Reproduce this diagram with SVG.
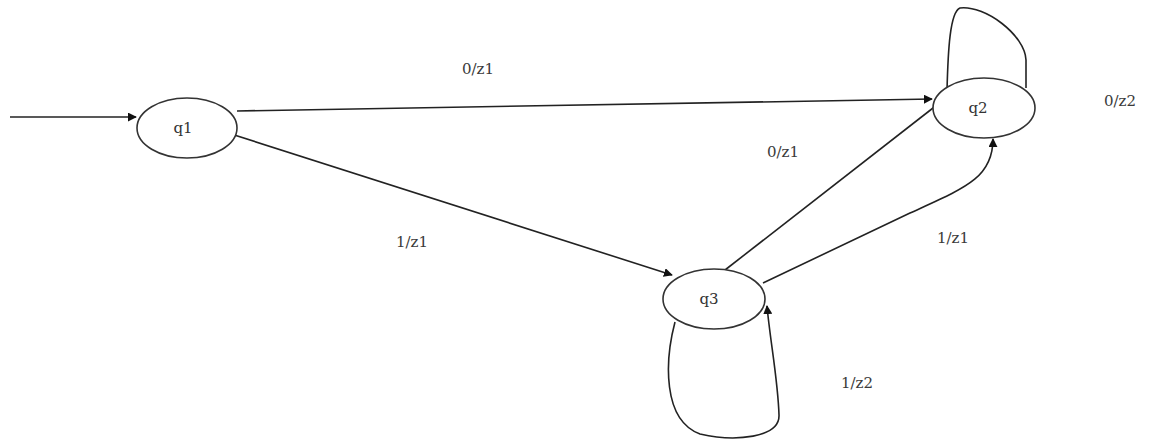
<svg xmlns="http://www.w3.org/2000/svg" width="1158" height="441" viewBox="0 0 1158 441">
<style>
.st{fill:#fff;stroke:#333;stroke-width:1.6}
.e{fill:none;stroke:#222;stroke-width:1.6}
.lb{font-family:"DejaVu Serif","Liberation Serif",serif;font-size:15px;fill:#3a3a3a}
.nl{font-family:"DejaVu Serif","Liberation Serif",serif;font-size:15px;fill:#333}
</style>
<defs>
<marker id="ah" viewBox="0 0 10 10" refX="9" refY="5" markerWidth="9" markerHeight="9" markerUnits="userSpaceOnUse" orient="auto">
<path d="M0,0 L10,5 L0,10 z" fill="#111"/>
</marker>
</defs>
<rect width="1158" height="441" fill="#fff"/>
<g id="connectors">
<line class="e" x1="10" y1="117" x2="136" y2="117" marker-end="url(#ah)"/>
<path class="e" d="M237,111 L932,99" marker-end="url(#ah)"/>
<path class="e" d="M228,133 L672,275" marker-end="url(#ah)"/>
<path class="e" d="M725,270 L942,101" marker-end="url(#ah)"/>
<path class="e" d="M763,283 L910,213 C965,188 993,178 993,139" marker-end="url(#ah)"/>
<path class="e" d="M947,91 C948,50 950,12 960,8 C985,5 1025,35 1026,60 L1026,88"/>
<path class="e" d="M675,322 C665,360 662,420 700,434 C735,442 780,438 779,415 C778,380 770,340 767,306" marker-end="url(#ah)"/>
</g>
<g id="q1">
<ellipse class="st" cx="187" cy="128" rx="50" ry="30"/>
<text class="nl" x="183" y="133" text-anchor="middle">q1</text>
</g>
<g id="q2">
<ellipse class="st" cx="984" cy="108" rx="51" ry="30"/>
<text class="nl" x="978" y="113" text-anchor="middle">q2</text>
</g>
<g id="q3">
<ellipse class="st" cx="714" cy="299" rx="51" ry="30"/>
<text class="nl" x="709" y="304" text-anchor="middle">q3</text>
</g>
<g id="labels">
<text class="lb" x="478" y="74" text-anchor="middle">0/z1</text>
<text class="lb" x="412" y="247" text-anchor="middle">1/z1</text>
<text class="lb" x="783" y="157" text-anchor="middle">0/z1</text>
<text class="lb" x="953" y="243" text-anchor="middle">1/z1</text>
<text class="lb" x="1120" y="106" text-anchor="middle">0/z2</text>
<text class="lb" x="857" y="388" text-anchor="middle">1/z2</text>
</g>
</svg>
